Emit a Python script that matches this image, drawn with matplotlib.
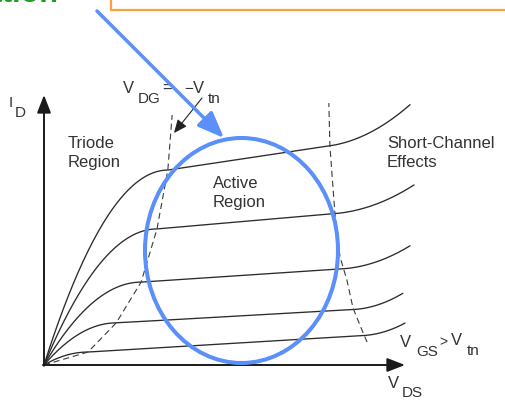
import numpy as np
import matplotlib
matplotlib.use("Agg")
import matplotlib.pyplot as plt
from matplotlib.patches import Ellipse, Rectangle

plt.rcParams['font.family'] = ['Liberation Sans', 'DejaVu Sans']

# output characteristics, one entry per V_GS step (lowest curve first)
v_sat = [1.22, 2.0, 2.69, 3.13, 3.43]       # V_DS where the curve saturates
i_sat = [0.48, 1.56, 3.07, 5.04, 7.22]      # I_D at saturation
clm_slope = [0.08, 0.075, 0.088, 0.115, 0.2]  # slope in the active region
sc_onset = [8.84, 8.56, 8.25, 8.06, 7.92]   # start of short-channel rise
sc_rise = [0.37, 0.5, 0.69, 0.81, 1.08]     # extra current at the end
v_end = [10.0, 9.94, 10.14, 10.25, 10.14]

# V_DG = -V_tn boundary (triode / active)
edge_v = [0.0, 1.22, 2.0, 2.69, 3.13, 3.43, 3.55]
edge_i = [0.0, 0.48, 1.56, 3.07, 5.04, 7.22, 9.26]

# onset of short-channel effects
sc_v = [8.95, 8.84, 8.56, 8.39, 8.2, 8.06, 7.92, 7.89]
sc_i = [0.85, 1.19, 2.11, 3.15, 4.0, 5.59, 8.11, 9.7]

W, H = 505, 401
fig = plt.figure(figsize=(W / 100, H / 100), dpi=100)
fig.patch.set_facecolor('white')

# chart axes: 36.1 px per volt, 27 px per current unit, origin at (44, 365)
PX_V, PX_I = 36.1, 27.0
X0, Y0 = 44, 365
ax = fig.add_axes([0, 0, 1, 1])
ax.set_xlim(-X0 / PX_V, (W - X0) / PX_V)
ax.set_ylim(-(H - Y0) / PX_I, Y0 / PX_I)
ax.axis('off')

curve_col = '#2b2b2b'
for vs, isat, k, v0, rise, ve in zip(v_sat, i_sat, clm_slope, sc_onset, sc_rise, v_end):
    v = np.linspace(0, ve, 300)
    i = np.where(v < vs, isat * (1 - (1 - v / vs) ** 2), isat + k * (v - vs))
    up = np.clip((v - v0) / (ve - v0), 0, None)
    i = i + rise * up ** 2
    ax.plot(v, i, color=curve_col, lw=0.95, solid_capstyle='round')

ax.plot(edge_v, edge_i, color='#3a3a3a', lw=0.8, ls=(0, (5.5, 3.5)))
ax.plot(sc_v, sc_i, color='#3a3a3a', lw=0.8, ls=(0, (5.5, 3.5)))

# axes with arrowheads
ax.annotate('', xy=(0, 10), xytext=(0, -0.03),
            arrowprops=dict(arrowstyle='-|>,head_length=0.9,head_width=0.35',
                            lw=1.4, color='#1a1a1a', mutation_scale=12,
                            shrinkA=0, shrinkB=0))
ax.annotate('', xy=(10, 0), xytext=(-0.03, 0),
            arrowprops=dict(arrowstyle='-|>,head_length=0.9,head_width=0.35',
                            lw=1.4, color='#1a1a1a', mutation_scale=12,
                            shrinkA=0, shrinkB=0))

# overlay in pixel coordinates for labels and highlights
ov = fig.add_axes([0, 0, 1, 1])
ov.set_xlim(0, W)
ov.set_ylim(H, 0)
ov.axis('off')
ov.patch.set_alpha(0)

tc = '#333333'


def label(x, y, s, size=12):
    ov.text(x, y, s, fontsize=size, color=tc, ha='left', va='baseline')


# I_D
label(9, 107, 'I', 11)
label(15, 117, 'D', 11)

# V_DG = -V_tn
label(123, 93, 'V')
label(138, 103, 'DG', 11)
label(162, 93, '=')
label(184, 93, '\u2212', 11)
label(193, 93, 'V')
label(208, 103, 'tn', 11)
ov.annotate('', xy=(174, 133), xytext=(202, 98),
            arrowprops=dict(arrowstyle='-|>,head_length=0.8,head_width=0.35',
                            lw=0.8, color='#222222', mutation_scale=10,
                            shrinkA=0, shrinkB=0))

label(68, 148, 'Triode')
label(68, 167, 'Region')
label(213, 188, 'Active')
label(213, 207, 'Region')
label(387, 148, 'Short-Channel')
label(387, 167, 'Effects')

# V_GS > V_tn
label(400, 347, 'V')
label(416, 356, 'GS', 11)
label(439, 346, '>', 10)
label(451, 345, 'V')
label(467, 355, 'tn', 11)

# V_DS
label(388, 388, 'V')
label(402, 397, 'DS', 11)

# highlight: header box, title fragment, arrow and ellipse
blue = '#5b8ff9'
ov.add_patch(Rectangle((111, -20), 420, 30, facecolor='white',
                       edgecolor='#f9a13a', lw=1.6, zorder=5))
ov.text(58, 2.5, 'Saturation', fontsize=22, fontweight='bold',
        color='#1e9e1e', ha='right', va='baseline', zorder=6)
ov.annotate('', xy=(224, 138), xytext=(97, 11),
            arrowprops=dict(arrowstyle='-|>,head_length=0.8,head_width=0.32',
                            lw=2.5, color=blue, mutation_scale=20,
                            shrinkA=0, shrinkB=0), zorder=6)
ov.add_patch(Ellipse((241.5, 250.5), 193, 225, fill=False,
                     edgecolor=blue, lw=2.9, zorder=6))

fig.savefig('out.png', dpi=100)
